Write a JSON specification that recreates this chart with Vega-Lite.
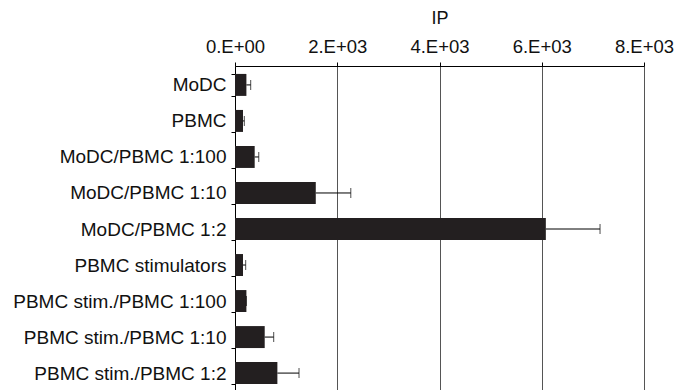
{
  "$schema": "https://vega.github.io/schema/vega-lite/v6.json",
  "width": 409,
  "height": 326,
  "autosize": "none",
  "padding": {"left": 235, "top": 66, "right": 31, "bottom": 0},
  "background": "white",
  "config": {
    "view": {"stroke": null},
    "font": "Liberation Sans",
    "axis": {"labelFont": "Liberation Sans", "titleFont": "Liberation Sans", "labelColor": "#111", "titleColor": "#111"}
  },
  "data": {
    "values": [
      {"group": "MoDC", "ip": 223, "err": 84},
      {"group": "PBMC", "ip": 157, "err": 25},
      {"group": "MoDC/PBMC 1:100", "ip": 385, "err": 80},
      {"group": "MoDC/PBMC 1:10", "ip": 1580, "err": 685},
      {"group": "MoDC/PBMC 1:2", "ip": 6080, "err": 1060},
      {"group": "PBMC stimulators", "ip": 157, "err": 52},
      {"group": "PBMC stim./PBMC 1:100", "ip": 223, "err": 0},
      {"group": "PBMC stim./PBMC 1:10", "ip": 581, "err": 176},
      {"group": "PBMC stim./PBMC 1:2", "ip": 829, "err": 423}
    ]
  },
  "transform": [{"calculate": "datum.ip + datum.err", "as": "hi"}],
  "encoding": {
    "y": {
      "field": "group", "type": "nominal", "sort": null,
      "scale": {"paddingInner": 0.39, "paddingOuter": 0.22},
      "axis": {"title": null, "labelFontSize": 19, "labelLimit": 400, "tickSize": 4, "labelPadding": 5, "domainColor": "#000", "tickColor": "#000", "tickBand": "extent", "grid": false}
    }
  },
  "layer": [
    {
      "mark": {"type": "bar", "color": "#231f20"},
      "encoding": {
        "x": {
          "field": "ip", "type": "quantitative",
          "scale": {"domain": [0, 8000], "nice": false},
          "axis": {
            "orient": "top", "title": "IP", "titleFontSize": 18, "titleFontWeight": "normal", "titlePadding": 10,
            "values": [0, 2000, 4000, 6000, 8000],
            "labelExpr": "datum.value == 0 ? '0.E+00' : (datum.value/1000) + '.E+03'",
            "labelFontSize": 18.5, "labelOverlap": false, "labelFlush": false, "labelBound": false,
            "tickSize": 4, "labelPadding": 6,
            "grid": true, "gridColor": "#555", "gridWidth": 1,
            "domainColor": "#000", "tickColor": "#000"
          }
        }
      }
    },
    {
      "mark": {"type": "rule", "color": "#000", "strokeWidth": 1},
      "encoding": {"x": {"field": "ip", "type": "quantitative"}, "x2": {"field": "hi"}}
    },
    {
      "mark": {"type": "tick", "color": "#000", "thickness": 1, "size": 10},
      "encoding": {"x": {"field": "hi", "type": "quantitative"}}
    }
  ]
}
